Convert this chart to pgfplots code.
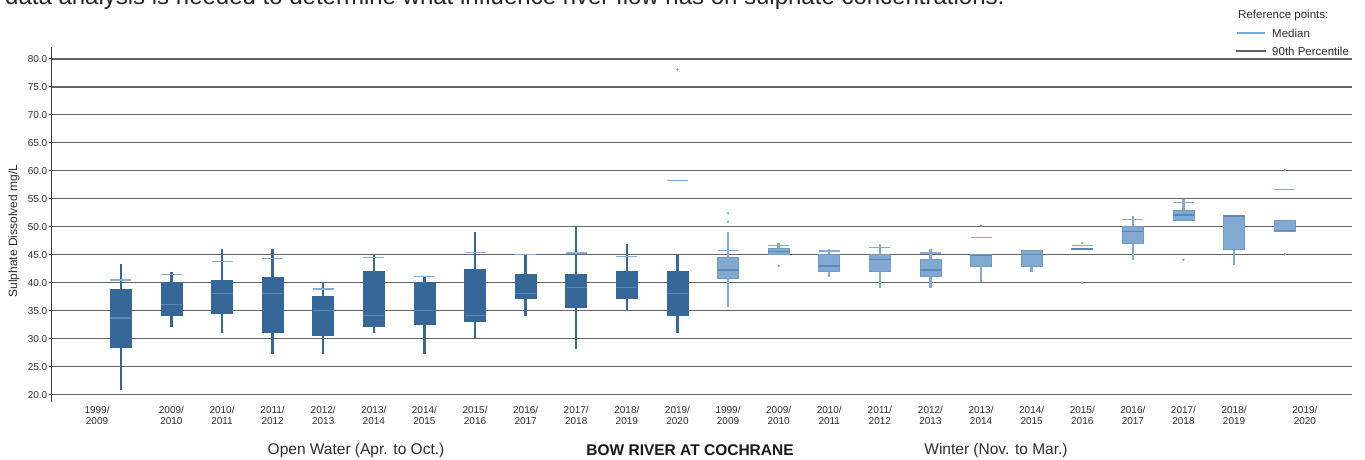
\documentclass[border=0pt]{standalone}
\usepackage{fontspec}
\setmainfont{Liberation Sans}
\usepackage{pgfplots}
\pgfplotsset{compat=1.18}
\usepgfplotslibrary{statistics}
\definecolor{darkbox}{RGB}{53,103,152}
\definecolor{darkmed}{RGB}{88,136,184}
\definecolor{lightbox}{RGB}{130,169,210}
\definecolor{lightedge}{RGB}{112,154,199}
\definecolor{lightmed}{RGB}{92,136,184}
\definecolor{ninety}{RGB}{135,172,214}
\definecolor{gridgray}{RGB}{100,100,100}
\definecolor{axisgray}{RGB}{60,60,60}
\definecolor{labelgray}{RGB}{45,45,45}
\definecolor{legmed}{RGB}{110,172,228}
\pgfplotsset{
  owbox/.style={fill=darkbox, draw=darkbox, line width=0.6pt,
    boxplot/every median/.style={draw=darkmed, line width=1.1pt},
    boxplot/every whisker/.style={draw=darkbox, line width=2.4pt}},
  wbox/.style={fill=lightbox, draw=lightedge, line width=0.8pt,
    boxplot/every median/.style={draw=lightmed, line width=1.3pt},
    boxplot/every whisker/.style={draw=lightbox, line width=2.4pt}},
}
\begin{document}
\begin{tikzpicture}[x=1pt,y=1pt]
\begin{axis}[
  at={(0,0)}, anchor=south west, scale only axis,
  width=1300pt, height=355pt,
  xmin=-1.36, xmax=24.33, ymin=18.7, ymax=82.1,
  axis lines*=left,
  x axis line style={draw=none},
  y axis line style={draw=axisgray, line width=1pt},
  ytick={20,25,30,35,40,45,50,55,60,65,70,75,80},
  ymajorgrids, grid style={draw=gridgray, line width=1.5pt},
  xtick={-0.47,1,2,3,4,5,6,7,8,9,10,11,12,13,14,15,16,17,18,19,20,21,22,23.40},
  xticklabels={{1999/\\2009},{2009/\\2010},{2010/\\2011},{2011/\\2012},{2012/\\2013},{2013/\\2014},{2014/\\2015},{2015/\\2016},{2016/\\2017},{2017/\\2018},{2018/\\2019},{2019/\\2020},
               {1999/\\2009},{2009/\\2010},{2010/\\2011},{2011/\\2012},{2012/\\2013},{2013/\\2014},{2014/\\2015},{2015/\\2016},{2016/\\2017},{2017/\\2018},{2018/\\2019},{2019/\\2020}},
  xtick style={draw=none},
  xticklabel style={align=center, font=\fontsize{10}{11}\selectfont, text=labelgray, inner sep=0pt, yshift=-1pt},
  ytick style={draw=axisgray, line width=0.8pt},
  tick align=outside, major tick length=3pt,
  yticklabel style={font=\fontsize{10}{12}\selectfont, text=labelgray, inner sep=1.5pt},
  yticklabel={\pgfmathprintnumber[fixed, fixed zerofill, precision=1, assume math mode=true]{\tick}},
  boxplot/draw direction=y,
  boxplot/box extend=0.415,
  boxplot/whisker extend=0,
  clip=false,
]
\coordinate (O) at (rel axis cs:0,0);
% ---- Open water (Apr. to Oct.)
\addplot[owbox, boxplot prepared={draw position=0, lower whisker=20.9, lower quartile=28.5, median=33.7, upper quartile=38.8, upper whisker=43.3}] coordinates {};
\addplot[owbox, boxplot prepared={draw position=1, lower whisker=32.1, lower quartile=34.1, median=36.1, upper quartile=40.1, upper whisker=42.0}] coordinates {};
\addplot[owbox, boxplot prepared={draw position=2, lower whisker=31.1, lower quartile=34.6, median=38.1, upper quartile=40.5, upper whisker=46.0}] coordinates {};
\addplot[owbox, boxplot prepared={draw position=3, lower whisker=27.2, lower quartile=31.1, median=38.1, upper quartile=41.0, upper whisker=46.0}] coordinates {};
\addplot[owbox, boxplot prepared={draw position=4, lower whisker=27.2, lower quartile=30.6, median=35.1, upper quartile=37.5, upper whisker=40.1}] coordinates {};
\addplot[owbox, boxplot prepared={draw position=5, lower whisker=31.1, lower quartile=32.2, median=34.1, upper quartile=42.0, upper whisker=45.0}] coordinates {};
\addplot[owbox, boxplot prepared={draw position=6, lower whisker=27.2, lower quartile=32.6, median=35.1, upper quartile=40.1, upper whisker=41.0}] coordinates {};
\addplot[owbox, boxplot prepared={draw position=7, lower whisker=30.1, lower quartile=33.1, median=34.1, upper quartile=42.4, upper whisker=49.1}] coordinates {};
\addplot[owbox, boxplot prepared={draw position=8, lower whisker=34.1, lower quartile=37.2, median=38.1, upper quartile=41.5, upper whisker=45.0}] coordinates {};
\addplot[owbox, boxplot prepared={draw position=9, lower whisker=28.1, lower quartile=35.7, median=39.1, upper quartile=41.5, upper whisker=50.0}] coordinates {};
\addplot[owbox, boxplot prepared={draw position=10, lower whisker=35.1, lower quartile=37.2, median=39.1, upper quartile=42.0, upper whisker=47.0}] coordinates {};
\addplot[owbox, boxplot prepared={draw position=11, lower whisker=31.1, lower quartile=34.1, median=38.1, upper quartile=42.0, upper whisker=45.0}] coordinates {};
% ---- Winter (Nov. to Mar.)
\addplot[wbox, boxplot prepared={draw position=12, lower whisker=35.7, lower quartile=40.8, median=42.3, upper quartile=44.5, upper whisker=49.1}] coordinates {};
\addplot[wbox, boxplot prepared={draw position=13, lower whisker=45.1, lower quartile=45.1, median=45.6, upper quartile=46.1, upper whisker=47.1}] coordinates {};
\addplot[wbox, boxplot prepared={draw position=14, lower whisker=41.1, lower quartile=42.1, median=43.0, upper quartile=45.0, upper whisker=46.0}] coordinates {};
\addplot[wbox, boxplot prepared={draw position=15, lower whisker=39.1, lower quartile=42.1, median=44.1, upper quartile=45.0, upper whisker=47.0}] coordinates {};
\addplot[wbox, boxplot prepared={draw position=16, lower whisker=39.1, lower quartile=41.1, median=42.3, upper quartile=44.1, upper whisker=46.0}] coordinates {};
\addplot[wbox, boxplot prepared={draw position=17, lower whisker=40.1, lower quartile=43.0, median=44.9, upper quartile=45.0, upper whisker=45.0}] coordinates {};
\addplot[wbox, boxplot prepared={draw position=18, lower whisker=42.0, lower quartile=43.0, median=45.1, upper quartile=45.85, upper whisker=45.85}] coordinates {};
\addplot[wbox, boxplot prepared={draw position=19, lower whisker=45.9, lower quartile=45.9, median=46.0, upper quartile=46.1, upper whisker=46.1}] coordinates {};
\addplot[wbox, boxplot prepared={draw position=20, lower whisker=44.1, lower quartile=47.1, median=49.1, upper quartile=50.1, upper whisker=52.0}] coordinates {};
\addplot[wbox, boxplot prepared={draw position=21, lower whisker=51.2, lower quartile=51.2, median=52.1, upper quartile=53.0, upper whisker=55.0}] coordinates {};
\addplot[wbox, boxplot prepared={draw position=22, lower whisker=43.2, lower quartile=46.0, median=51.9, upper quartile=52.0, upper whisker=52.0}] coordinates {};
\addplot[wbox, boxplot prepared={draw position=23, lower whisker=49.1, lower quartile=49.1, median=49.3, upper quartile=51.1, upper whisker=51.1}] coordinates {};
% ---- 90th percentile reference dashes
\addplot[only marks, mark=-, mark size=10.5pt, mark options={draw=ninety, line width=1.4pt}] coordinates {
 (0,40.5) (1,41.5) (2,43.8) (3,44.3) (4,38.9) (5,44.5) (6,41.1) (7,45.4) (8,45.0) (9,45.3) (10,44.7) (11,58.3)
 (12,45.8) (13,46.6) (14,45.7) (15,46.3) (16,45.3) (17,48.1) (19,46.6) (20,51.3) (21,54.3) (23,56.6)};
% ---- outlying points
\addplot[only marks, mark=*, mark size=0.9pt, mark options={draw=lightedge, fill=lightedge}] coordinates {
 (11,78.1) (12,52.4) (12,50.9) (13,43.0) (17,50.2) (19,47.1) (19,40.0) (21,44.1) (23,60.1) (23,45.1)};
\end{axis}
\pgfresetboundingbox
\begin{scope}[shift={(O)}, xshift=-52pt, yshift=-58pt]
\useasboundingbox (0,0) rectangle (1365,460);
% clipped introductory sentence at the very top
\node[anchor=base west, inner sep=0pt, text=black!85, font=\fontsize{24}{26}\selectfont] at (5,455) {data analysis is needed to determine what influence river flow has on sulphate concentrations.};
% y axis label
\node[rotate=90, font=\fontsize{12}{14}\selectfont, text=labelgray] at (14,229) {Sulphate Dissolved mg/L};
% bottom titles
\node[font=\fontsize{15.5}{17}\selectfont, text=labelgray] at (356,10) {Open Water (Apr. to Oct.)};
\node[font=\bfseries\fontsize{15.5}{17}\selectfont, text=black!90] at (690,10) {BOW RIVER AT COCHRANE};
\node[font=\fontsize{15.5}{17}\selectfont, text=labelgray] at (996,10) {Winter (Nov. to Mar.)};
% reference-point legend (clipped at the chart edge)
\begin{scope}
\clip (0,0) rectangle (1352,460);
\node[anchor=west, inner sep=0pt, font=\fontsize{11.5}{13}\selectfont, text=labelgray] at (1238,444) {Reference points:};
\draw[legmed, line width=1.2pt] (1237,427) -- (1265,427);
\node[anchor=west, inner sep=0pt, font=\fontsize{11.5}{13}\selectfont, text=labelgray] at (1272,427) {Median};
\draw[gridgray, line width=1.2pt] (1236,409) -- (1266,409);
\node[anchor=west, inner sep=0pt, font=\fontsize{11.5}{13}\selectfont, text=labelgray] at (1272,409) {90th Percentile};
\end{scope}
\end{scope}
\end{tikzpicture}
\end{document}
